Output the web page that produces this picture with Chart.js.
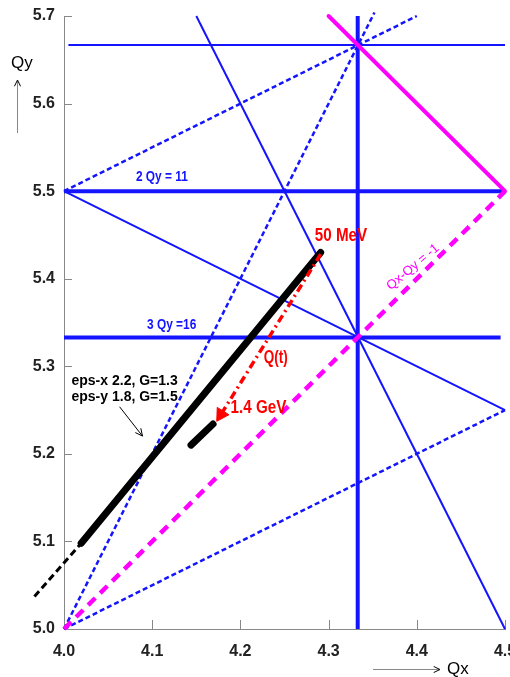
<!DOCTYPE html>
<html>
<head>
<meta charset="utf-8">
<script src="https://cdn.jsdelivr.net/npm/chart.js@4.4.1/dist/chart.umd.min.js"></script>
<style>
  body { margin: 0; background: #fff; }
  canvas { display: block; }
</style>
</head>
<body>
<canvas id="tunechart" width="510" height="677"></canvas>
<script>
// tick labels
var tickX = [4.0, 4.1, 4.2, 4.3, 4.4, 4.5];
var tickY = [5.0, 5.1, 5.2, 5.3, 5.4, 5.5, 5.6, 5.7];

// resonance lines, [Qx, Qy] end points
var line3Qy17 = [[4.005, 5.667], [4.5, 5.667]];
var line2Qy11 = [[4.0, 5.5], [4.5, 5.5]];
var line3Qy16 = [[4.0, 5.333], [4.495, 5.333]];
var line3Qx13 = [[4.333, 5.0], [4.333, 5.7]];
var line2QxQy14 = [[4.15, 5.7], [4.5, 5.0]];
var lineQx2Qy15 = [[4.0, 5.5], [4.5, 5.25]];
var lineQxm2Qy6 = [[4.0, 5.0], [4.5, 5.25]];
var line2QxmQy3 = [[4.0, 5.0], [4.352, 5.704]];
var lineQxm2Qy7 = [[4.0, 5.5], [4.4, 5.7]];
var lineQxQy10 = [[4.3, 5.7], [4.5, 5.5]];
var lineQxmQy1 = [[4.0, 5.0], [4.5, 5.5]];

// working lines (beam tune spread)
var workLine = [[4.0195, 5.098], [4.291, 5.430]];
var workLineExt = [[3.9665, 5.037], [4.0195, 5.098]];
var workShort = [[4.144, 5.210], [4.169, 5.234]];

// tune path Q(t) from 50 MeV to 1.4 GeV
var tunePath = [[4.291, 5.428], [4.178, 5.245]];
var tuneArrow = [[4.178, 5.245]];

// pointer for the emittance note
var notePointer = [[4.063, 5.2538], [4.089, 5.2203]];

var BLUE = '#1414ff';
var MAGENTA = '#ff00ff';
var RED = '#ff0000';

function pts(arr) {
    return arr.map(function (p) { return { x: p[0], y: p[1] }; });
}

function seg(data, color, width, dash, order, cap) {
    return {
        data: pts(data),
        showLine: true,
        borderColor: color,
        backgroundColor: color,
        borderWidth: width,
        borderDash: dash || [],
        borderCapStyle: cap || 'butt',
        pointRadius: 0,
        clip: false,
        order: order
    };
}

var datasets = [
    seg(tunePath, RED, 3.5, [8, 4, 2, 4], 0),
    {
        data: pts(tuneArrow),
        showLine: false,
        pointStyle: 'triangle',
        pointRadius: 8,
        pointRotation: 212,
        pointBackgroundColor: RED,
        pointBorderColor: RED,
        pointBorderWidth: 1,
        clip: false,
        order: 0
    },
    seg(workLine, '#000', 7, [], 1, 'round'),
    seg(workShort, '#000', 7, [], 1, 'round'),
    seg(workLineExt, '#000', 3, [7, 4], 1),
    seg(notePointer, '#000', 1, [], 1),
    seg(lineQxmQy1, MAGENTA, 4.5, [10, 7], 2),
    seg(lineQxQy10, MAGENTA, 4, [], 2, 'round'),
    seg(line3Qx13, BLUE, 4, [], 3),
    seg(line2Qy11, BLUE, 4, [], 3),
    seg(line3Qy16, BLUE, 4, [], 3),
    seg(line3Qy17, BLUE, 2, [], 3),
    seg(line2QxQy14, BLUE, 2, [], 3),
    seg(lineQx2Qy15, BLUE, 2, [], 3),
    seg(lineQxm2Qy6, BLUE, 2.5, [5, 3], 3),
    seg(line2QxmQy3, BLUE, 2.5, [5, 3], 3),
    seg(lineQxm2Qy7, BLUE, 2.5, [5, 3], 3)
];

// text notes at data positions
var notes = [
    { text: '2 Qy = 11', x: 4.111, y: 5.516, color: BLUE, font: 'bold 14px "Liberation Sans", Arial', sx: 0.85 },
    { text: '3 Qy =16', x: 4.122, y: 5.347, color: BLUE, font: 'bold 14px "Liberation Sans", Arial', sx: 0.85 },
    { text: '50 MeV', x: 4.314, y: 5.4486, color: RED, font: 'bold 19px "Liberation Sans", Arial', sx: 0.8 },
    { text: 'Q(t)', x: 4.240, y: 5.309, color: RED, font: 'bold 18px "Liberation Sans", Arial', sx: 0.75 },
    { text: '1.4 GeV', x: 4.2205, y: 5.2523, color: RED, font: 'bold 19px "Liberation Sans", Arial', sx: 0.8 },
    { text: 'Qx-Qy = -1', x: 4.3956, y: 5.4132, color: MAGENTA, font: '13px "Liberation Sans", Arial', rot: -40 },
    { text: 'eps-x 2.2, G=1.3', x: 4.0085, y: 5.2826, color: '#000', font: 'bold 14px "Liberation Sans", Arial', align: 'left' },
    { text: 'eps-y 1.8, G=1.5', x: 4.0085, y: 5.2652, color: '#000', font: 'bold 14px "Liberation Sans", Arial', align: 'left' }
];

function drawArrowHead(ctx, x0, y0, x1, y1, size) {
    var a = Math.atan2(y1 - y0, x1 - x0);
    ctx.beginPath();
    ctx.moveTo(x1 - size * Math.cos(a - 0.45), y1 - size * Math.sin(a - 0.45));
    ctx.lineTo(x1, y1);
    ctx.lineTo(x1 - size * Math.cos(a + 0.45), y1 - size * Math.sin(a + 0.45));
    ctx.stroke();
}

var innerTicks = {
    id: 'innerTicks',
    beforeDatasetsDraw: function (chart) {
        var ctx = chart.ctx, xs = chart.scales.x, ys = chart.scales.y;
        var area = chart.chartArea;
        ctx.save();
        ctx.strokeStyle = '#888';
        ctx.lineWidth = 1;
        ctx.beginPath();
        tickX.slice(1).forEach(function (v) {
            var px = Math.round(xs.getPixelForValue(v)) + 0.5;
            ctx.moveTo(px, area.bottom);
            ctx.lineTo(px, area.bottom - 9);
        });
        tickY.slice(1).forEach(function (v) {
            var py = Math.round(ys.getPixelForValue(v)) + 0.5;
            ctx.moveTo(area.left, py);
            ctx.lineTo(area.left + 8, py);
        });
        ctx.stroke();
        ctx.restore();
    }
};

var notesPlugin = {
    id: 'notes',
    afterDatasetsDraw: function (chart) {
        var ctx = chart.ctx, xs = chart.scales.x, ys = chart.scales.y;
        ctx.save();
        notes.forEach(function (t) {
            ctx.save();
            ctx.translate(xs.getPixelForValue(t.x), ys.getPixelForValue(t.y));
            if (t.rot) ctx.rotate(t.rot * Math.PI / 180);
            ctx.scale(t.sx || 1, 1);
            ctx.font = t.font;
            ctx.fillStyle = t.color;
            ctx.textAlign = t.align || 'center';
            ctx.textBaseline = 'middle';
            ctx.fillText(t.text, 0, 0);
            ctx.restore();
        });

        // pointer head
        ctx.strokeStyle = '#000';
        ctx.lineWidth = 1;
        drawArrowHead(ctx,
            xs.getPixelForValue(notePointer[0][0]), ys.getPixelForValue(notePointer[0][1]),
            xs.getPixelForValue(notePointer[1][0]), ys.getPixelForValue(notePointer[1][1]), 8);

        // axis names with arrows
        ctx.font = '17px "Liberation Sans", Arial';
        ctx.fillStyle = '#000';
        ctx.textBaseline = 'middle';
        ctx.textAlign = 'left';
        ctx.fillText('Qy', 11, 63);
        ctx.fillText('Qx', 447, 669);

        ctx.strokeStyle = '#888';
        ctx.beginPath();
        ctx.moveTo(17.5, 133);
        ctx.lineTo(17.5, 81);
        ctx.moveTo(373, 669.5);
        ctx.lineTo(439, 669.5);
        ctx.stroke();
        ctx.strokeStyle = '#000';
        drawArrowHead(ctx, 17.5, 133, 17.5, 80, 7);
        drawArrowHead(ctx, 373, 669.5, 440, 669.5, 7);
        ctx.restore();
    }
};

new Chart('tunechart', {
    type: 'scatter',
    data: { datasets: datasets },
    options: {
        responsive: false,
        animation: false,
        devicePixelRatio: 1,
        layout: { autoPadding: false, padding: { top: 16, right: 5, left: 0, bottom: 0 } },
        plugins: {
            legend: { display: false },
            tooltip: { enabled: false }
        },
        scales: {
            x: {
                type: 'linear',
                min: 4.0,
                max: 4.5,
                afterBuildTicks: function (s) { s.ticks = tickX.map(function (v) { return { value: v }; }); },
                afterFit: function (s) { s.height = 48; s.paddingLeft = 0; s.paddingRight = 0; },
                ticks: {
                    callback: function (v) { return v.toFixed(1); },
                    font: { family: '"Liberation Sans", Arial', size: 16, weight: 'bold' },
                    color: '#222',
                    padding: 13,
                    maxRotation: 0,
                    autoSkip: false
                },
                grid: { display: false, drawTicks: false },
                border: { display: true, color: '#888', width: 1 }
            },
            y: {
                type: 'linear',
                min: 5.0,
                max: 5.7,
                afterBuildTicks: function (s) { s.ticks = tickY.map(function (v) { return { value: v }; }); },
                afterFit: function (s) { s.width = 64; s.paddingTop = 0; s.paddingBottom = 0; },
                ticks: {
                    callback: function (v) { return v.toFixed(1); },
                    font: { family: '"Liberation Sans", Arial', size: 16, weight: 'bold' },
                    color: '#222',
                    padding: 9,
                    autoSkip: false
                },
                grid: { display: false, drawTicks: false },
                border: { display: true, color: '#888', width: 1 }
            }
        }
    },
    plugins: [innerTicks, notesPlugin]
});
</script>
</body>
</html>
